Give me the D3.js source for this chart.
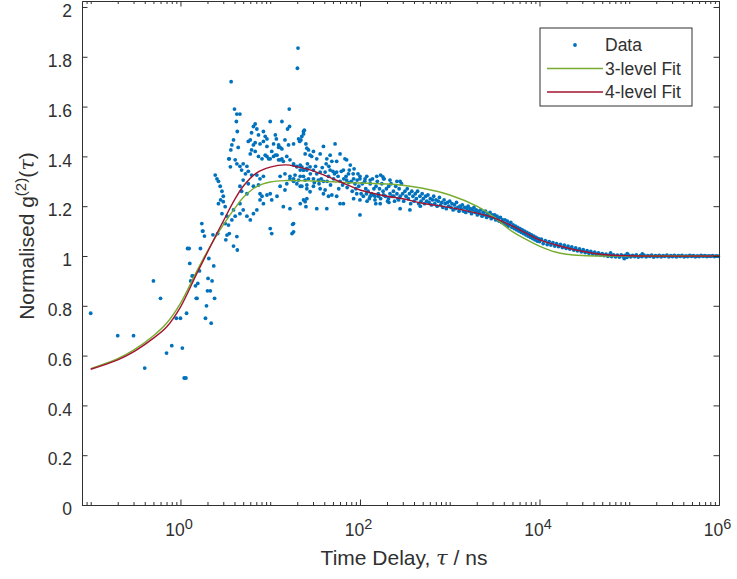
<!DOCTYPE html>
<html>
<head>
<meta charset="utf-8">
<script src="https://cdn.jsdelivr.net/npm/d3@7"></script>
<style>
  body { margin: 0; background: #fff; }
  text { font-family: "Liberation Sans", Arial, sans-serif; fill: #303030; }
</style>
</head>
<body>
<script>
var width = 737
var height = 579

// axis settings
var xMajor = [1, 1e2, 1e4, 1e6]
var yTicks = [0, 0.2, 0.4, 0.6, 0.8, 1, 1.2, 1.4, 1.6, 1.8, 2]
var legendNames = ["Data", "3-level Fit", "4-level Fit"]

// measured g2 points [tau ns, g2], split by region
var dataRise = [
  [0.1,0.77],[0.2,0.68],[0.3,0.68],[0.4,0.55],[0.5,0.90],[0.6,0.83],[0.7,0.61],[0.8,0.64],
  [0.9,0.75],[1.0,0.75],[1.05,0.63],[1.1,0.51],[1.15,0.51],[1.17,0.77],[1.2,1.03],[1.25,1.03],
  [1.27,0.97],[1.3,0.90],[1.35,0.92],[1.38,0.92],[1.47,0.88],[1.5,0.83],[1.53,0.83],[1.56,0.89],
  [1.63,0.94],[1.67,1.03],[1.73,1.13],[1.76,1.10],[1.78,1.10],[1.85,1.08],[1.9,0.75],[1.95,0.80],
  [2.0,0.86],[2.03,0.91],[2.07,0.99],[2.15,0.86],[2.2,0.73],[2.25,0.90],[2.3,1.085],[2.35,0.96],
  [2.4,0.83],[2.6,1.09],[3.2,1.065],[3.9,1.04],[4.3,1.024]
]

var dataPeak = [
  [20.4,1.835],[20.1,1.754],[3.67,1.70],[4.0,1.59],[4.25,1.57],[4.6,1.57],[4.2,1.54],[4.3,1.50],
  [16.3,1.59],[10,1.54],[13.5,1.54],[15.6,1.51],[16.4,1.52],[6.5,1.52],[6.8,1.53],[7.1,1.51],
  [6.2,1.495],[7.4,1.486],[8.4,1.50],[8.8,1.48],[9.2,1.47],[11.4,1.486],[11.7,1.47],[12.4,1.436],
  [12.9,1.436],[13.5,1.43],[5.7,1.46],[6.0,1.466],[6.5,1.446],[6.8,1.455],[3.74,1.446],[3.9,1.466],
  [4.4,1.436],[3.64,1.426],[3.5,1.39],[4.07,1.386],[4.25,1.37],[20.7,1.47],[22,1.466],[21.3,1.46],
  [23.5,1.50],[25,1.45],
  [9.2,1.40],[10,1.39],[10.9,1.40],[11.9,1.405],[12.9,1.386],[14,1.38],[15.3,1.40],[16.6,1.386],
  [18.2,1.37],[19.8,1.36],[21.6,1.365],[23.5,1.345],[25.6,1.345],
  [2.44,1.325],[2.55,1.31],[2.65,1.30],[2.77,1.28],[2.9,1.26],[3.0,1.24],[2.8,1.225],[2.65,1.21],
  [3.0,1.218],[3.15,1.198],[3.45,1.39],[3.6,1.358],
  [2.9,1.17],[3.15,1.13],[3.3,1.16],[3.43,1.124],[3.74,1.145],[4.07,1.16],[3.5,1.09],[4.25,1.078],
  [3.3,1.084],[3.9,1.185],[4.6,1.21],[4.6,1.17],[5.0,1.185],[5.5,1.16],[6.0,1.145],[6.5,1.17],
  [7.1,1.185],[7.7,1.25],[8.1,1.24],[7.7,1.225],[8.4,1.21],[9.2,1.245],[10,1.25],[10.4,1.225],
  [11.9,1.24],[14,1.198],[16.6,1.19],[10,1.11],[10.4,1.09],[18.2,1.13],[17.5,1.09],
  [5.3,1.33],[5.7,1.34],[6.2,1.325],[7.1,1.325],[7.7,1.31],[8.4,1.32],[5.0,1.305],[5.7,1.29],
  [6.5,1.28],[7.4,1.285],[4.6,1.28],[4.8,1.26],[5.5,1.25],
  [6.0,1.41],[6.2,1.426],[6.8,1.42],[7.4,1.40],[8.1,1.39],[8.8,1.405],[9.6,1.39],[10.4,1.42],
  [11.4,1.405],[12.4,1.386],[13.5,1.39],[4.6,1.36],[5.0,1.37],[5.5,1.36],[4.8,1.345],
  [7.7,1.45],[8.4,1.46],[9.2,1.44],[10.9,1.45],[12.4,1.446],[14.6,1.466],[16,1.446],[18.2,1.45],
  [12.9,1.32],[14.6,1.33],[16.6,1.31],[18.9,1.325],[21.6,1.32],[24.5,1.305],[15.3,1.29],[18.2,1.30],
  [21.6,1.28],[25.6,1.27],[12.9,1.28],[14.6,1.265],[23.5,1.225],[25.6,1.23],[21.6,1.21],[25,1.198]
]

var dataShoulder = [
  [22.5,1.48],[23.5,1.49],[24,1.505],
  [25.6,1.433],[26.7,1.426],[27.8,1.405],[24.5,1.41],[30.3,1.42],[29,1.40],[33,1.39],[36,1.41],
  [39.2,1.44],[42.7,1.39],[46.5,1.405],[52.8,1.45],[60,1.41],[48.6,1.38],[55,1.38],[68,1.39],
  [71,1.386],[78,1.365],
  [18.2,1.365],[19.8,1.358],[21.6,1.345],[22.5,1.358],[23.5,1.345],[25.6,1.352],[27.8,1.358],
  [30.3,1.345],[33,1.33],[36,1.337],[40.9,1.337],[46.5,1.345],[55,1.337],[65.4,1.345],[74.5,1.33],
  [16.6,1.32],[18.2,1.31],[20.7,1.305],[23.5,1.32],[26.7,1.31],[30.3,1.31],[34.4,1.305],[39.2,1.30],
  [44.6,1.32],[50.7,1.31],[60,1.30],[71,1.305],[85,1.31],[100,1.32],[114,1.31],[130,1.305],
  [154,1.32],[183,1.31],[216,1.305],[258,1.30],
  [19.8,1.29],[22.5,1.28],[25.6,1.285],[27.8,1.258],[30.3,1.28],[36,1.27],[40.9,1.265],[39.2,1.25],
  [44.6,1.24],[48.6,1.245],[55,1.24],[60,1.21],[85,1.23],[92,1.25],[100,1.225],[118,1.25],
  [130,1.24],[141,1.245],[147,1.225],[161,1.24],[168,1.21],[183,1.245],[208,1.23],[238,1.24],
  [270,1.225],[24.5,1.218],[33,1.19],[42.7,1.19],[65.4,1.21],[100,1.165],[18.2,1.097],[17.8,1.127],
  [52,1.33],[57,1.32],[62,1.34],[66,1.31],[70,1.32],[75,1.295],[80,1.30],[84,1.33],[88,1.29],
  [93,1.305],[97,1.28],[58,1.27],[64,1.285],[72,1.275],[82,1.26],[90,1.27],[95,1.33],[76,1.345],
  [86,1.35],[28,1.33],[32,1.36],[35,1.29],[38,1.355],[43,1.30],[45,1.36],[47,1.285],[50,1.34],
  [42,1.37],[31,1.295],[26,1.37],[37,1.31]
]

var dataDecay = [
  [100,1.31],[103,1.25],[106,1.29],[109,1.24],[113,1.30],[116,1.27],[119,1.32],[123,1.26],
  [127,1.23],[130,1.29],[134,1.25],[138,1.31],[143,1.27],[147,1.24],[151,1.28],[156,1.30],
  [160,1.25],[165,1.27],[170,1.23],[175,1.29],[181,1.26],[186,1.31],[192,1.24],[197,1.27],
  [203,1.22],[209,1.28],[216,1.25],[222,1.29],[229,1.24],[236,1.26],[243,1.22],[250,1.28],
  [258,1.25],[265,1.23],[273,1.27],[281,1.24],[290,1.29],[299,1.25],[307,1.22],[317,1.26],
  [326,1.24],[336,1.27],[346,1.23],[356,1.25],[367,1.21],[378,1.26],[389,1.24],[401,1.22],
  [413,1.25],[425,1.23],[438,1.26],[451,1.21],[465,1.24],[479,1.22],[493,1.25],[508,1.23],
  [523,1.21],[539,1.24],[555,1.22],[572,1.245],[589,1.215],[607,1.23],[625,1.205],[643,1.225],
  [663,1.24],[682,1.21],[703,1.225],[724,1.20],[746,1.22],[768,1.235],[791,1.205],[815,1.215],
  [839,1.195],[865,1.225],[890,1.21],[917,1.19],[945,1.215],[973,1.20],[1000,1.22],[1030,1.195],
  [1060,1.21],[1090,1.185],[1130,1.205],[1160,1.19],[1190,1.215],[1230,1.195],[1270,1.18],[1300,1.20],
  [1340,1.19],[1380,1.205],[1430,1.18],[1470,1.195],[1510,1.175],[1560,1.19],[1600,1.20],[1650,1.18],
  [1700,1.19],[1750,1.17],[1810,1.185],[1860,1.195],[1920,1.175],[1970,1.185],[2030,1.165],[2090,1.18],
  [2160,1.17],[2220,1.185],[2290,1.16],[2360,1.175],[2430,1.165],[2500,1.18],[2580,1.155],[2650,1.17],
  [2730,1.16],[2810,1.175],[2900,1.15],[2990,1.165],[3070,1.155],[3170,1.165],[3260,1.145],[3360,1.16],
  [3460,1.15],[3560,1.14],[3670,1.155],[3780,1.135],[3890,1.145],[4010,1.13],[4130,1.145],[4250,1.125],
  [4380,1.14],[4510,1.12],[4650,1.13],[4790,1.135],[4930,1.115],[5080,1.125],[5230,1.11],[5390,1.12],
  [5550,1.105],[5720,1.115],[5890,1.10],[6070,1.11],[6250,1.095],[6430,1.105],[6630,1.09],[6820,1.10],
  [7030,1.085],[7240,1.095],[7460,1.08],[7680,1.09],[7910,1.075],[8150,1.085],[8390,1.07],[8650,1.08],
  [8900,1.065],[9170,1.075],[9450,1.06],[9730,1.07],[10000,1.058],
  [170,1.325],[180,1.318],[280,1.30],[280,1.19],[360,1.185],[470,1.20],[150,1.21],[120,1.22],[210,1.215]
]

var dataTail = [
  [10500,1.068],[11000,1.05],[11600,1.062],[12200,1.046],[12800,1.058],[13400,1.044],[14100,1.054],
  [14800,1.04],[15500,1.05],[16300,1.038],[17100,1.047],[18000,1.034],[18900,1.044],[19800,1.031],
  [20800,1.04],[21800,1.028],[22900,1.036],[24100,1.024],[25300,1.032],[26500,1.021],[27900,1.028],
  [29300,1.017],[30700,1.025],[32300,1.014],[33900,1.021],[35600,1.011],[37300,1.018],[39200,1.008],
  [41200,1.015],[43200,1.006],[45400,1.012],[47600,1.004],[50000,1.009],[52500,1.002],[55200,1.007],
  [57900,0.999],[60800,1.005],[63800,0.998],[67000,1.004],[70400,0.997],[73900,1.003],[77600,0.996],
  [81500,1.004],[85500,0.998],[89800,1.002],[94300,0.995],[99000,1.003],[104000,0.997],[109000,1.002],
  [115000,0.998],[120000,1.004],[126000,0.996],[133000,1.001],[139000,0.998],[146000,1.003],
  [154000,0.997],[161000,1.001],[170000,0.999],[178000,1.003],[187000,0.996],[196000,1.001],
  [206000,0.998],[216000,1.002],[227000,0.997],[238000,1.001],[250000,0.999],[263000,1.003],
  [276000,0.997],[290000,1.001],[304000,0.998],[319000,1.002],[335000,0.997],[352000,1.001],
  [370000,0.999],[388000,1.002],[408000,0.997],[428000,1.0],[449000,0.998],[472000,1.002],
  [495000,0.999],[520000,1.001],[546000,0.997],[573000,1.0],[602000,0.998],[632000,1.002],
  [664000,0.999],[697000,1.001],[732000,0.998],[768000,1.0],[807000,0.999],[847000,1.001],
  [889000,0.998],[934000,1.0],[980000,0.999],
  [62000,1.012],[88000,0.99],[140000,1.008],[95000,1.009]
]

// fit curves
var fitTau = [0.1,0.2,0.3,0.5,0.7,1,1.5,2,2.5,3,4,5,7,10,15,20,30,50,70,100,200,300,500,
              1000,2000,3000,5000,7000,1e4,1.5e4,2e4,3e4,5e4,1e5,1e6]
var fit3Level = [0.548,0.588,0.622,0.68,0.73,0.81,0.935,1.02,1.08,1.125,1.19,1.235,1.278,1.297,
                 1.303,1.303,1.301,1.298,1.295,1.293,1.289,1.284,1.272,1.245,1.20,1.16,1.098,
                 1.068,1.04,1.016,1.007,1.002,1.0,1.0,1.0]
var fit4Level = [0.545,0.583,0.615,0.67,0.715,0.795,0.925,1.015,1.085,1.14,1.225,1.28,1.333,1.357,
                 1.366,1.358,1.342,1.31,1.288,1.265,1.24,1.23,1.212,1.195,1.172,1.155,1.12,
                 1.093,1.065,1.045,1.033,1.019,1.006,1.001,1.0]

var colData = "#0072BD", col3 = "#77AC30", col4 = "#A2142F", axisCol = "#303030"

var svg = d3.select("body")
    .append("svg")
    .attr("width", width)
    .attr("height", height)

var x = d3.scaleLog().domain([0.08, 1e6]).range([82, 719])
var y = d3.scaleLinear().domain([0, 2.024]).range([505, 1])

var allData = dataRise.concat(dataPeak, dataShoulder, dataDecay, dataTail)

svg.append("g").selectAll("circle")
    .data(allData)
    .enter()
    .append("circle")
    .attr("cx", d => x(d[0]))
    .attr("cy", d => y(d[1]))
    .attr("r", 1.9)
    .style("fill", colData)

var line = d3.line()
    .x(d => x(d[0]))
    .y(d => y(d[1]))
    .curve(d3.curveCatmullRom.alpha(0.5))

svg.append("path")
    .datum(fitTau.map((t, i) => [t, fit3Level[i]]))
    .attr("d", line)
    .attr("fill", "none")
    .attr("stroke", col3)
    .attr("stroke-width", 1.4)

svg.append("path")
    .datum(fitTau.map((t, i) => [t, fit4Level[i]]))
    .attr("d", line)
    .attr("fill", "none")
    .attr("stroke", col4)
    .attr("stroke-width", 1.4)

// axes, ticks pointing inward on all four sides
var xMinor = x.ticks().filter(t => xMajor.indexOf(t) < 0 && t > 0.08)

function styleAxis(g) {
    g.selectAll("path, line").attr("stroke", axisCol)
    g.selectAll("text").style("font-size", "17.5px").attr("fill", axisCol)
}

svg.append("g").attr("transform", "translate(0,505)")
    .call(d3.axisBottom(x).tickValues(xMinor).tickSizeInner(-3).tickSizeOuter(0).tickFormat(""))
    .call(styleAxis)
var xb = svg.append("g").attr("transform", "translate(0,505)")
    .call(d3.axisBottom(x).tickValues(xMajor).tickSizeInner(-5.5).tickSizeOuter(0).tickFormat(""))
    .call(styleAxis)
xb.selectAll(".tick text").each(function (d) {
    var t = d3.select(this).attr("y", 31).attr("dy", null).attr("dx", -2)
    t.append("tspan").text("10")
    t.append("tspan").attr("dy", -7).style("font-size", "14.5px").text(Math.round(Math.log10(d)))
})

svg.append("g").attr("transform", "translate(0,1)")
    .call(d3.axisTop(x).tickValues(xMinor).tickSizeInner(-3).tickSizeOuter(0).tickFormat(""))
    .call(styleAxis)
svg.append("g").attr("transform", "translate(0,1)")
    .call(d3.axisTop(x).tickValues(xMajor).tickSizeInner(-5.5).tickSizeOuter(0).tickFormat(""))
    .call(styleAxis)

var yl = svg.append("g").attr("transform", "translate(82,0)")
    .call(d3.axisLeft(y).tickValues(yTicks).tickSizeInner(-5.5).tickSizeOuter(0)
        .tickPadding(10).tickFormat(d3.format("~g")))
    .call(styleAxis)
yl.selectAll(".tick text").attr("dy", "0.55em")

svg.append("g").attr("transform", "translate(719,0)")
    .call(d3.axisRight(y).tickValues(yTicks).tickSizeInner(-5.5).tickSizeOuter(0).tickFormat(""))
    .call(styleAxis)

// axis titles
var xt = svg.append("text")
    .attr("x", 404).attr("y", 565)
    .attr("text-anchor", "middle")
    .style("font-size", "21px")
xt.append("tspan").text("Time Delay, ")
xt.append("tspan").style("font-style", "italic").style("font-family", "'DejaVu Serif', serif").text("τ")
xt.append("tspan").text(" / ns")

var yt = svg.append("text")
    .attr("transform", "translate(34,236) rotate(-90)")
    .attr("text-anchor", "middle")
    .style("font-size", "21px")
yt.append("tspan").text("Normalised g")
yt.append("tspan").attr("dy", -8).style("font-size", "15px").text("(2)")
yt.append("tspan").attr("dy", 8).text("(")
yt.append("tspan").style("font-style", "italic").style("font-family", "'DejaVu Serif', serif").text("τ")
yt.append("tspan").text(")")

// legend
var lg = svg.append("g")
lg.append("rect")
    .attr("x", 540).attr("y", 28).attr("width", 152).attr("height", 78)
    .attr("fill", "#fff").attr("stroke", axisCol).attr("stroke-width", 1)
var rows = [45, 68.5, 92]
lg.append("circle").attr("cx", 575).attr("cy", rows[0]).attr("r", 1.9).style("fill", colData)
lg.append("line").attr("x1", 547).attr("x2", 603).attr("y1", rows[1]).attr("y2", rows[1])
    .attr("stroke", col3).attr("stroke-width", 1.4)
lg.append("line").attr("x1", 547).attr("x2", 603).attr("y1", rows[2]).attr("y2", rows[2])
    .attr("stroke", col4).attr("stroke-width", 1.4)
lg.selectAll("text.leg")
    .data(legendNames)
    .enter()
    .append("text")
    .attr("class", "leg")
    .attr("x", 605)
    .attr("y", (d, i) => rows[i] + 6.3)
    .style("font-size", "17.5px")
    .text(d => d)
</script>
</body>
</html>
